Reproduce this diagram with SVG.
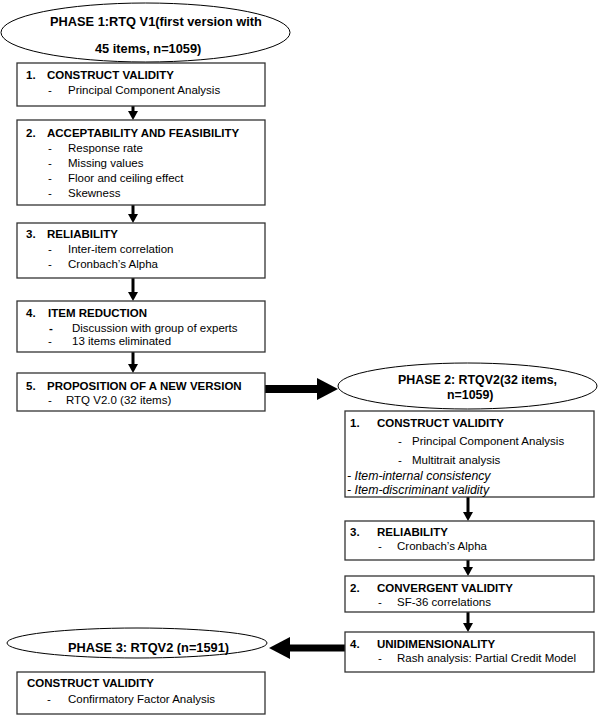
<svg xmlns="http://www.w3.org/2000/svg" width="600" height="716" viewBox="0 0 600 716">
<style>
text{font-family:"Liberation Sans",Arial,sans-serif;fill:#000;}
.t{font-size:11.5px;}
.b{font-size:11.5px;font-weight:bold;}
.i{font-size:12.3px;font-style:italic;}
.ph{font-size:12.8px;font-weight:bold;}
.ph2{font-size:12.4px;font-weight:bold;}
.box{fill:#fff;stroke:#333;stroke-width:1.3;}
.ell{fill:#fff;stroke:#000;stroke-width:1;}
.thin{stroke:#000;stroke-width:3;fill:none;}
.thick{stroke:#000;fill:none;}
</style>
<defs>
<marker id="ah" markerUnits="userSpaceOnUse" markerWidth="10" markerHeight="10" refX="0" refY="5" orient="auto">
<path d="M0,0 L9,5 L0,10 Z" fill="#000"/>
</marker>
<marker id="big" markerUnits="userSpaceOnUse" markerWidth="22" markerHeight="22" refX="0" refY="11" orient="auto">
<path d="M0,0 L21,11 L0,22 Z" fill="#000"/>
</marker>
</defs>
<rect width="600" height="716" fill="#fff"/>
<g id="connectors">
<line class="thin" x1="133" y1="106" x2="133" y2="111" marker-end="url(#ah)"/>
<line class="thin" x1="133" y1="205" x2="133" y2="214" marker-end="url(#ah)"/>
<line class="thin" x1="133" y1="278" x2="133" y2="292" marker-end="url(#ah)"/>
<line class="thin" x1="133" y1="352" x2="133" y2="364" marker-end="url(#ah)"/>
<line class="thin" x1="468" y1="497" x2="468" y2="512" marker-end="url(#ah)"/>
<line class="thin" x1="468" y1="560" x2="468" y2="567" marker-end="url(#ah)"/>
<line class="thin" x1="468" y1="612" x2="468" y2="623" marker-end="url(#ah)"/>
<line class="thick" stroke-width="8" x1="265" y1="389" x2="317" y2="389" marker-end="url(#big)"/>
<line class="thick" stroke-width="7" x1="345" y1="648" x2="290" y2="648" marker-end="url(#big)"/>
</g>
<g id="phase1">
<ellipse class="ell" cx="145.5" cy="32.5" rx="144.5" ry="29.5"/>
<text class="ph" x="50" y="26">PHASE 1:RTQ V1(first version with</text>
<text class="ph" x="95" y="53">45 items, n=1059)</text>
</g>
<g id="p1-construct">
<rect class="box" x="17" y="63" width="248" height="43"/>
<text class="b" x="26" y="79">1.</text><text class="b" x="47" y="79">CONSTRUCT VALIDITY</text>
<text class="t" x="48" y="94">-</text><text class="t" x="68" y="94">Principal Component Analysis</text>
</g>
<g id="p1-accept">
<rect class="box" x="17" y="120" width="248" height="85"/>
<text class="b" x="26" y="136.5">2.</text><text class="b" x="47" y="136.5">ACCEPTABILITY AND FEASIBILITY</text>
<text class="t" x="48" y="152">-</text><text class="t" x="68" y="152">Response rate</text>
<text class="t" x="48" y="167">-</text><text class="t" x="68" y="167">Missing values</text>
<text class="t" x="48" y="182">-</text><text class="t" x="68" y="182">Floor and ceiling effect</text>
<text class="t" x="48" y="197">-</text><text class="t" x="68" y="197">Skewness</text>
</g>
<g id="p1-reliab">
<rect class="box" x="17" y="223" width="248" height="55"/>
<text class="b" x="26" y="238">3.</text><text class="b" x="47" y="238">RELIABILITY</text>
<text class="t" x="48" y="253">-</text><text class="t" x="68" y="253">Inter-item correlation</text>
<text class="t" x="48" y="268">-</text><text class="t" x="68" y="268">Cronbach’s Alpha</text>
</g>
<g id="p1-itemred">
<rect class="box" x="17" y="301" width="248" height="51"/>
<text class="b" x="26" y="317">4.</text><text class="b" x="48" y="317">ITEM REDUCTION</text>
<text class="b" x="49" y="332">-</text><text class="t" x="72" y="332">Discussion with group of experts</text>
<text class="t" x="48" y="345">-</text><text class="t" x="72" y="345">13 items eliminated</text>
</g>
<g id="p1-newversion">
<rect class="box" x="17" y="373" width="248" height="38"/>
<text class="b" x="26" y="390">5.</text><text class="b" x="47" y="390">PROPOSITION OF A NEW VERSION</text>
<text class="t" x="48" y="404">-</text><text class="t" x="66" y="404">RTQ V2.0 (32 items)</text>
</g>
<g id="phase2">
<ellipse class="ell" cx="467.5" cy="386" rx="129.5" ry="23"/>
<text class="ph2" x="398" y="384">PHASE 2: RTQV2(32 items,</text>
<text class="ph2" x="447" y="399">n=1059)</text>
</g>
<g id="p2-construct">
<rect class="box" x="345" y="411" width="249" height="86"/>
<text class="b" x="350" y="427">1.</text><text class="b" x="377" y="427">CONSTRUCT VALIDITY</text>
<text class="t" x="398" y="445">-</text><text class="t" x="412" y="445">Principal Component Analysis</text>
<text class="t" x="398" y="464">-</text><text class="t" x="412" y="464">Multitrait analysis</text>
<text class="i" x="347" y="480">- Item-internal consistency</text>
<text class="i" x="347" y="494">- Item-discriminant validity</text>
</g>
<g id="p2-reliab">
<rect class="box" x="345" y="521" width="249" height="39"/>
<text class="b" x="350" y="536">3.</text><text class="b" x="377" y="536">RELIABILITY</text>
<text class="t" x="378" y="550">-</text><text class="t" x="397" y="550">Cronbach’s Alpha</text>
</g>
<g id="p2-convergent">
<rect class="box" x="345" y="576" width="249" height="36"/>
<text class="b" x="350" y="592">2.</text><text class="b" x="377" y="592">CONVERGENT VALIDITY</text>
<text class="t" x="378" y="606">-</text><text class="t" x="397" y="606">SF-36 correlations</text>
</g>
<g id="p2-unidim">
<rect class="box" x="345" y="632" width="249" height="40"/>
<text class="b" x="350" y="648">4.</text><text class="b" x="377" y="648">UNIDIMENSIONALITY</text>
<text class="t" x="378" y="662">-</text><text class="t" x="397" y="662">Rash analysis: Partial Credit Model</text>
</g>
<g id="phase3">
<ellipse class="ell" cx="137" cy="643" rx="130" ry="15"/>
<text class="ph" x="68" y="652">PHASE 3: RTQV2 (n=1591)</text>
</g>
<g id="p3-construct">
<rect class="box" x="17" y="672" width="248" height="42"/>
<text class="b" x="27" y="687">CONSTRUCT VALIDITY</text>
<text class="t" x="47" y="703">-</text><text class="t" x="68" y="703">Confirmatory Factor Analysis</text>
</g>
</svg>
